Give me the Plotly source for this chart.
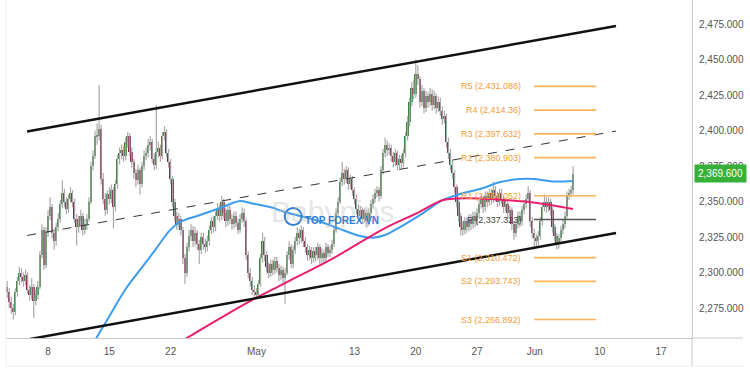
import plotly.graph_objects as go

# ---------------- data ----------------
first_open = 2290
bars_per_day = 6
first_bar_day = -4 + 4 / 6   # first visible 4H bar (trading-day axis, 0 = Apr 8)

closes = [
    2286, 2279,
    2275, 2272, 2286, 2294, 2300, 2297,
    2294, 2298, 2288, 2284, 2290, 2280,
    2284, 2290, 2312, 2330, 2305, 2328,
    2340, 2346, 2328, 2322, 2332, 2338,
    2348, 2356, 2350, 2345, 2352, 2356,
    2350, 2338, 2332, 2336, 2340, 2330,
    2334, 2338, 2350, 2375, 2382, 2396,
    2396, 2401, 2366, 2352, 2344, 2355,
    2352, 2358, 2346, 2362, 2380, 2384,
    2386, 2382, 2392, 2396, 2385, 2378,
    2370, 2365, 2372, 2362, 2375, 2382,
    2384, 2390, 2392, 2380, 2376, 2385,
    2388, 2382, 2396, 2399, 2384, 2378,
    2366, 2350, 2340, 2334, 2338, 2330,
    2310, 2300, 2318, 2326, 2330, 2322,
    2328, 2320, 2316, 2325, 2320, 2318,
    2322, 2330, 2336, 2332, 2340, 2345,
    2340, 2350, 2342, 2336, 2344, 2338,
    2334, 2340, 2335, 2330, 2338, 2342,
    2336, 2312, 2300, 2294, 2288, 2286,
    2284, 2292, 2310, 2322, 2312, 2304,
    2300, 2306, 2302, 2308, 2303, 2298,
    2302, 2296, 2300, 2312, 2318, 2306,
    2316, 2322, 2328, 2324, 2330, 2322,
    2318, 2312, 2316, 2310, 2315, 2312,
    2318, 2310, 2314, 2310, 2318, 2314,
    2316, 2320, 2330, 2342, 2350, 2364,
    2370, 2366, 2372, 2362, 2366, 2358,
    2352, 2345, 2340, 2344, 2338, 2342,
    2336, 2342, 2348, 2352, 2356, 2358,
    2354, 2372, 2384, 2390, 2386, 2388,
    2382, 2378, 2384, 2376, 2380, 2377,
    2384, 2396, 2406, 2420, 2430, 2426,
    2440, 2436, 2420, 2428, 2416, 2424,
    2420, 2426, 2418, 2424, 2416, 2420,
    2414, 2408, 2410, 2392, 2384, 2376,
    2370, 2360, 2350, 2340, 2332, 2330,
    2336, 2332, 2338, 2334, 2340, 2336,
    2342, 2348, 2352, 2346, 2354, 2350,
    2356, 2352, 2358, 2354, 2350, 2356,
    2352, 2346, 2348, 2342, 2344, 2334,
    2328, 2334, 2340, 2336, 2344, 2348,
    2352, 2356, 2336, 2328, 2324, 2322,
    2326, 2336, 2346, 2350, 2346, 2350,
    2344, 2332, 2326, 2320, 2324, 2330,
    2334, 2340, 2354, 2356, 2358, 2369.6,
]

highs = [
    2294, 2289,
    2283, 2278, 2289, 2297, 2304, 2303,
    2300, 2302, 2300, 2291, 2296, 2292,
    2288, 2294, 2315, 2334, 2332, 2332,
    2344, 2353, 2348, 2331, 2335, 2342,
    2351, 2365, 2359, 2353, 2355, 2360,
    2358, 2352, 2341, 2340, 2344, 2342,
    2338, 2341, 2353, 2378, 2386, 2400,
    2405, 2432, 2404, 2370, 2356, 2358,
    2360, 2362, 2360, 2365, 2383, 2388,
    2390, 2389, 2395, 2399, 2398, 2388,
    2380, 2373, 2376, 2374, 2378, 2386,
    2388, 2394, 2396, 2394, 2384, 2418,
    2392, 2390, 2399, 2403, 2401, 2387,
    2380, 2368, 2352, 2343, 2342, 2340,
    2332, 2313, 2321, 2330, 2334, 2333,
    2332, 2330, 2323, 2328, 2328, 2324,
    2326, 2333, 2339, 2340, 2343, 2349,
    2348, 2354, 2352, 2345, 2347, 2347,
    2341, 2343, 2343, 2338, 2341, 2346,
    2345, 2338, 2315, 2303, 2297, 2291,
    2289, 2295, 2313, 2328, 2325, 2315,
    2307, 2309, 2309, 2311, 2311, 2306,
    2305, 2304, 2303, 2315, 2322, 2320,
    2319, 2325, 2332, 2331, 2333, 2332,
    2325, 2320, 2319, 2318, 2318, 2318,
    2321, 2320, 2317, 2316, 2321, 2320,
    2319, 2323, 2333, 2345, 2353, 2367,
    2378, 2373, 2375, 2374, 2369, 2368,
    2360, 2355, 2348, 2347, 2346, 2345,
    2344, 2345, 2351, 2355, 2359, 2361,
    2360, 2375, 2387, 2395, 2393, 2391,
    2390, 2385, 2387, 2386, 2383, 2383,
    2387, 2399, 2410, 2423, 2434, 2436,
    2450, 2446, 2438, 2432, 2430, 2428,
    2427, 2430, 2429, 2428, 2426, 2424,
    2423, 2417, 2414, 2412, 2395, 2387,
    2379, 2372, 2362, 2352, 2342, 2336,
    2339, 2339, 2341, 2341, 2343, 2343,
    2345, 2351, 2355, 2354, 2357, 2357,
    2359, 2359, 2364, 2361, 2357, 2359,
    2359, 2354, 2351, 2350, 2347, 2346,
    2336, 2337, 2343, 2343, 2347, 2351,
    2355, 2361, 2358, 2339, 2331, 2327,
    2329, 2339, 2349, 2355, 2353, 2353,
    2352, 2346, 2334, 2328, 2327, 2333,
    2337, 2343, 2357, 2359, 2361, 2375,
]

lows = [
    2282, 2275,
    2271, 2267, 2270, 2283, 2291, 2293,
    2290, 2291, 2285, 2280, 2281, 2268,
    2277, 2281, 2288, 2310, 2302, 2303,
    2325, 2337, 2324, 2316, 2319, 2329,
    2335, 2345, 2346, 2341, 2342, 2349,
    2346, 2335, 2319, 2328, 2333, 2326,
    2327, 2330, 2336, 2348, 2372, 2380,
    2390, 2393, 2362, 2348, 2340, 2341,
    2348, 2349, 2331, 2343, 2359, 2376,
    2380, 2378, 2379, 2388, 2382, 2374,
    2366, 2360, 2362, 2355, 2360, 2372,
    2379, 2381, 2386, 2377, 2372, 2373,
    2381, 2378, 2380, 2393, 2381, 2374,
    2362, 2346, 2336, 2330, 2331, 2326,
    2306, 2292, 2297, 2315, 2322, 2318,
    2319, 2316, 2306, 2313, 2316, 2314,
    2315, 2319, 2327, 2328, 2329, 2337,
    2336, 2337, 2338, 2332, 2333, 2334,
    2330, 2331, 2332, 2327, 2328, 2335,
    2332, 2309, 2296, 2290, 2284, 2283,
    2281, 2282, 2290, 2307, 2308, 2300,
    2296, 2297, 2298, 2299, 2300, 2294,
    2295, 2292, 2278, 2298, 2309, 2303,
    2303, 2313, 2319, 2320, 2321, 2318,
    2314, 2308, 2309, 2306, 2307, 2308,
    2309, 2306, 2307, 2306, 2308, 2311,
    2311, 2313, 2318, 2328, 2339, 2348,
    2361, 2362, 2363, 2358, 2359, 2354,
    2348, 2341, 2336, 2337, 2334, 2335,
    2332, 2333, 2339, 2345, 2349, 2353,
    2350, 2352, 2369, 2381, 2382, 2383,
    2378, 2374, 2375, 2372, 2373, 2373,
    2374, 2381, 2393, 2403, 2417, 2422,
    2423, 2432, 2416, 2417, 2412, 2413,
    2416, 2417, 2414, 2415, 2412, 2413,
    2410, 2404, 2405, 2388, 2380, 2372,
    2366, 2356, 2346, 2336, 2326, 2326,
    2327, 2328, 2329, 2330, 2331, 2332,
    2333, 2339, 2345, 2342, 2343, 2346,
    2347, 2348, 2349, 2350, 2346, 2347,
    2348, 2342, 2343, 2338, 2339, 2330,
    2323, 2325, 2331, 2332, 2333, 2341,
    2345, 2349, 2332, 2324, 2316, 2318,
    2319, 2323, 2333, 2343, 2342, 2343,
    2340, 2328, 2322, 2316, 2317, 2321,
    2327, 2331, 2338, 2351, 2353, 2355,
]

x_tick_vals = [0, 5, 10, 17, 25, 30, 35, 39.7, 45, 50]
x_tick_text = ["8", "15", "22", "May", "13", "20", "27", "Jun", "10", "17"]
y_tick_vals = [2275, 2300, 2325, 2350, 2375, 2400, 2425, 2450, 2475]

ma_blue_t = [3.6, 5.06, 6.28, 7.5, 8.73, 9.95, 10.77, 12.4, 14.03, 15.66, 16.48, 18.1,
             19.33, 20.55, 21.78, 23.41, 25.45, 26.5, 27.49, 28.71, 30.59, 32.22,
             33.36, 35.48, 36.87, 38.5, 39.7, 41.19, 42.82]
ma_blue_p = [2249, 2270.1, 2287.7, 2301.8, 2315.8, 2329.9, 2335.6, 2340.5, 2345.4, 2350.4,
             2349.0, 2346.1, 2342.6, 2339.8, 2337.0, 2332.0, 2325.7, 2324.5, 2326.4,
             2332.0, 2341.9, 2351.1, 2354.6, 2359.5, 2363.7, 2365.8, 2365.8, 2364.1, 2364.4]

ma_pink_t = [10.77, 13.78, 16.48, 19.33, 23.25, 27.49, 30.1, 32.22, 33.36, 35.24,
             37.11, 39.89, 42.82]
ma_pink_p = [2251, 2266.5, 2279.9, 2292.6, 2310.0, 2331.3, 2341.9, 2351.1, 2352.1,
             2352.1, 2351.1, 2349.0, 2344.7]

channel_t = [-1.71, 46.33]
channel_upper = [2399.3, 2473.6]
channel_mid = [2326.1, 2399.6]
channel_lower = [2252.8, 2327.8]

pivot_names = ["R5", "R4", "R3", "R2", "R1", "P", "S1", "S2", "S3"]
pivot_levels = [2431.088, 2414.36, 2397.632, 2380.903, 2354.052, 2337.323,
                2310.472, 2293.743, 2266.892]
pivot_texts = ["2,431.088", "2,414.36", "2,397.632", "2,380.903", "2,354.052",
               "2,337.323", "2,310.472", "2,293.743", "2,266.892"]
pivot_t = [39.65, 44.7]
pivot_label_t = 38.75
last_price = 2369.6
last_price_text = "2,369.600"

# ---------------- build ----------------
FONT = "Liberation Sans"
opens = [first_open] + closes[:-1]
times = [first_bar_day + i / bars_per_day for i in range(len(closes))]

wx, wy = [], []
bases, heights, colors = [], [], []
for t, o, h, l, c in zip(times, opens, highs, lows, closes):
    wx += [t, t, None]
    wy += [l, h, None]
    bases.append(min(o, c))
    heights.append(max(abs(c - o), 0.6))
    colors.append("#3a8537" if c >= o else "#8a2550")

fig = go.Figure()
fig.add_trace(go.Scatter(x=wx, y=wy, mode="lines", line=dict(color="#a9a9a9", width=1.2),
                         hoverinfo="skip"))
fig.add_trace(go.Bar(x=times, y=heights, base=bases, width=0.14,
                     marker=dict(color=colors, line=dict(width=0)), hoverinfo="skip"))

fig.add_trace(go.Scatter(x=ma_blue_t, y=ma_blue_p, mode="lines",
                         line=dict(color="#3c9cf0", width=2, shape="spline", smoothing=1.0)))
fig.add_trace(go.Scatter(x=ma_pink_t, y=ma_pink_p, mode="lines",
                         line=dict(color="#ea1e6e", width=2, shape="spline", smoothing=1.0)))

fig.add_trace(go.Scatter(x=channel_t, y=channel_upper, mode="lines",
                         line=dict(color="#111111", width=2.5)))
fig.add_trace(go.Scatter(x=channel_t, y=channel_lower, mode="lines",
                         line=dict(color="#111111", width=2.5)))
fig.add_trace(go.Scatter(x=channel_t, y=channel_mid, mode="lines",
                         line=dict(color="#333333", width=1, dash="dash")))

annotations = []
for name, lvl, txt in zip(pivot_names, pivot_levels, pivot_texts):
    is_p = name == "P"
    lc = "#555555" if is_p else "#ffb25a"
    tc = "#444444" if is_p else "#f39c34"
    fig.add_trace(go.Scatter(x=pivot_t, y=[lvl, lvl], mode="lines",
                             line=dict(color=lc, width=1.6)))
    annotations.append(dict(x=pivot_label_t, y=lvl, xref="x", yref="y",
                            text=f"{name} ({txt})", showarrow=False, xanchor="right",
                            yanchor="middle", font=dict(family=FONT, size=9, color=tc)))

# watermark
annotations.append(dict(x=23.2, y=2343, xref="x", yref="y", text="Babypips", showarrow=False,
                        font=dict(family=FONT, size=30, color="rgba(190,190,190,0.4)")))
annotations.append(dict(x=24.0, y=2336.5, xref="x", yref="y", text="<b>TOP FOREX VN</b>",
                        showarrow=False, font=dict(family=FONT, size=10, color="#2f7fd2")))
fig.add_trace(go.Scatter(x=[20.0], y=[2339.5], mode="markers",
                         marker=dict(symbol="circle-open", size=17, color="#2f7fd2",
                                     line=dict(color="#2f7fd2", width=2))))

annotations.append(dict(x=1, y=last_price, xref="paper", yref="y", text=last_price_text,
                        showarrow=False, xanchor="left", xshift=2, yanchor="middle",
                        bgcolor="#37b037", borderpad=3,
                        font=dict(family=FONT, size=10, color="white")))

shapes = [
    dict(type="line", xref="paper", yref="paper", x0=1, x1=1.074, y0=0, y1=0,
         line=dict(color="#c8c8c8", width=1)),
    dict(type="line", xref="paper", yref="paper", x0=1, x1=1, y0=-0.083, y1=0,
         line=dict(color="#c8c8c8", width=1)),
    dict(type="line", xref="paper", yref="paper", x0=0, x1=1.074, y0=-0.083, y1=-0.083,
         line=dict(color="#ececec", width=1)),
    dict(type="line", xref="paper", yref="paper", x0=0, x1=0, y0=-0.083, y1=1,
         line=dict(color="#f0f0f0", width=1)),
]

fig.update_layout(
    width=750, height=375,
    margin=dict(l=6, r=58, t=0, b=37),
    paper_bgcolor="white", plot_bgcolor="white",
    showlegend=False, bargap=0,
    annotations=annotations, shapes=shapes,
    font=dict(family=FONT),
)
fig.update_xaxes(range=[-3.43, 52.53], tickvals=x_tick_vals, ticktext=x_tick_text,
                 showgrid=False, zeroline=False, showline=True, linecolor="#c8c8c8",
                 ticks="outside", ticklen=4, tickcolor="rgba(0,0,0,0)",
                 tickfont=dict(family=FONT, size=10, color="#555555"))
fig.update_yaxes(side="right", range=[2253.9, 2491.9], tickvals=y_tick_vals,
                 tickformat=",.3f", showgrid=False, zeroline=False, showline=True,
                 linecolor="#c8c8c8", ticks="outside", ticklen=4,
                 tickcolor="rgba(0,0,0,0)",
                 tickfont=dict(family=FONT, size=10, color="#555555"))

fig.write_html("out.html", config={"displayModeBar": False},
               post_script="document.body.style.margin='0px';")
